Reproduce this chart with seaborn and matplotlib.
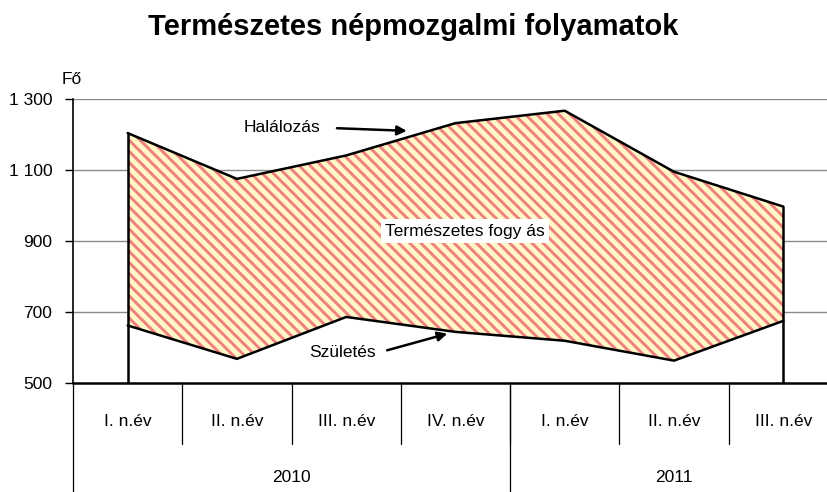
import numpy as np
import pandas as pd
import matplotlib
matplotlib.use("Agg")
import matplotlib.pyplot as plt
import matplotlib.transforms as mtransforms
import seaborn as sns

# ----------------------------
# Data
# ----------------------------
quarters = ["I. n.év", "II. n.év", "III. n.év", "IV. n.év", "I. n.év", "II. n.év", "III. n.év"]
years = ["2010", "2011"]
quarters_per_year = [4, 3]
halalozas = [1204, 1075, 1141, 1232, 1267, 1095, 997]
szuletes = [662, 568, 686, 644, 619, 563, 675]

yticks = [500, 700, 900, 1100, 1300]
ytick_labels = ["500", "700", "900", "1 100", "1 300"]

df = pd.DataFrame({
    "pos": np.arange(len(quarters)),
    "Halálozás": halalozas,
    "Születés": szuletes,
})

# ----------------------------
# Style
# ----------------------------
sns.set_theme(style="white")
plt.rcParams["font.family"] = ["Liberation Sans Narrow", "Liberation Sans", "DejaVu Sans"]
plt.rcParams["text.color"] = "black"
plt.rcParams["ytick.color"] = "black"
plt.rcParams["hatch.linewidth"] = 2.1

red = "#F08080"
yellow = "#FFF7C6"

fig = plt.figure(figsize=(8.27, 4.92), dpi=100)
ax = fig.add_axes([73 / 827, 109 / 492, 754 / 827, 284 / 492])

# filled area between the two series
ax.fill_between(df["pos"], df["Születés"], df["Halálozás"], facecolor=yellow, edgecolor="none", zorder=2)
ax.fill_between(df["pos"], df["Születés"], df["Halálozás"], facecolor="none", edgecolor=red,
                hatch="\\\\\\", linewidth=0, zorder=2)

sns.lineplot(data=df, x="pos", y="Halálozás", color="black", linewidth=1.8, ax=ax, zorder=3)
sns.lineplot(data=df, x="pos", y="Születés", color="black", linewidth=1.8, ax=ax, zorder=3)
# closing vertical edges down to the axis
for i in [0, len(quarters) - 1]:
    ax.plot([df["pos"][i], df["pos"][i]], [500, df["Halálozás"][i]], color="black", linewidth=1.8, zorder=3)

ax.set_xlim(-0.5, 6.4)
ax.set_ylim(500, 1300)
ax.set_yticks(yticks)
ax.set_yticklabels(ytick_labels, fontsize=12.5)
ax.set_xticks([])
ax.set_xlabel("")
ax.set_ylabel("")
for y in yticks[1:]:
    ax.axhline(y, color="#8c8c8c", linewidth=1.0, zorder=1)

ax.tick_params(axis="y", direction="out", length=6, width=1, color="black", pad=9, left=True)
for side in ["top", "right"]:
    ax.spines[side].set_visible(False)
ax.spines["left"].set_color("black")
ax.spines["left"].set_linewidth(1.2)
ax.spines["bottom"].set_color("black")
ax.spines["bottom"].set_linewidth(1.8)

# ----------------------------
# Multi-level category axis
# ----------------------------
trans = mtransforms.blended_transform_factory(ax.transData, fig.transFigure)
y_axis = 109 / 492
y_quarter_end = 48 / 492
for i in range(len(quarters)):
    ax.text(i, 70 / 492, quarters[i], transform=trans, ha="center", va="center", fontsize=12.5)
    if i > 0:
        ax.plot([i - 0.5, i - 0.5], [y_axis, y_quarter_end], transform=trans, color="black",
                linewidth=0.9, clip_on=False)

start = 0
for yr, n in zip(years, quarters_per_year):
    ax.plot([start - 0.5, start - 0.5], [y_axis, 0], transform=trans, color="black",
            linewidth=0.9, clip_on=False)
    center = start + (n - 1) / 2
    ax.text(center, 15 / 492, yr, transform=trans, ha="center", va="center", fontsize=12.5)
    start += n

# ----------------------------
# Annotations
# ----------------------------
ax.annotate("", xy=(2.58, 1210), xytext=(1.89, 1218),
            arrowprops=dict(arrowstyle="-|>", color="black", lw=1.8, mutation_scale=14))
ax.text(1.76, 1220, "Halálozás", ha="right", va="center", fontsize=12.5, zorder=5)

ax.annotate("", xy=(2.95, 641), xytext=(2.35, 590),
            arrowprops=dict(arrowstyle="-|>", color="black", lw=1.8, mutation_scale=14))
ax.text(2.27, 585, "Születés", ha="right", va="center", fontsize=12.5, zorder=5)

ax.text(3.09, 928, "Természetes fogy ás", ha="center", va="center", fontsize=12.5, zorder=5,
        bbox=dict(facecolor="white", edgecolor="none", pad=3))

fig.text(62 / 827, 1 - 79 / 492, "Fő", ha="left", va="center", fontsize=12.5)
fig.text(0.5, 1 - 27 / 492, "Természetes népmozgalmi folyamatok", ha="center", va="center",
         fontsize=21, fontweight="bold", family=["Liberation Sans", "DejaVu Sans"])

fig.savefig("out.png", dpi=100)
